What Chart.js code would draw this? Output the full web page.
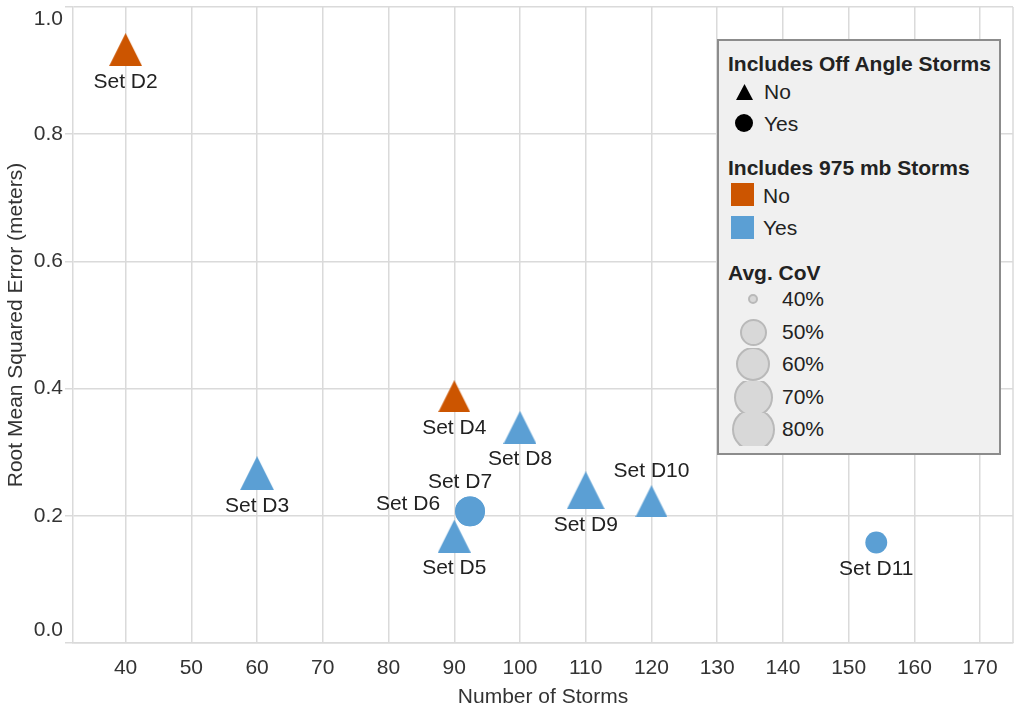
<!DOCTYPE html>
<html>
<head>
<meta charset="utf-8">
<script src="https://cdn.jsdelivr.net/npm/chart.js@4.4.0/dist/chart.umd.min.js"></script>
<style>
  html, body { margin: 0; padding: 0; background: #fff; }
  body { width: 1024px; height: 716px; position: relative; overflow: hidden;
         font-family: 'Liberation Sans', Arial, sans-serif; color: #222; }
  #chart { position: absolute; left: 0; top: 0; }
  #legend { position: absolute; left: 717px; top: 39px; width: 280px; height: 412px;
            background: #f0f0f0; border: 2px solid #8c8c8c; }
  #legend .t { position: absolute; font-weight: bold; font-size: 21px; line-height: 24px; white-space: nowrap; }
  #legend .l { position: absolute; font-size: 21px; line-height: 24px; white-space: nowrap; }
  #legend .sw { position: absolute; }
  #legend .row { position: absolute; left: 0; width: 60px; height: 33px; overflow: hidden; }
  #legend .dot { position: absolute; border-radius: 50%; background: #d8d8d8; border: 2px solid #b9b9b9; box-sizing: border-box; }
</style>
</head>
<body>
<canvas id="chart" width="1024" height="716"></canvas>
<div id="legend"></div>
<script>
// Data
const setNames   = ['Set D2', 'Set D3', 'Set D4', 'Set D5', 'Set D6', 'Set D7', 'Set D8', 'Set D9', 'Set D10', 'Set D11'];
const numStorms  = [40, 60, 90, 90, 92.4, 92.4, 100, 110, 120, 154.2];
const rmse       = [0.933, 0.267, 0.388, 0.168, 0.207, 0.207, 0.339, 0.240, 0.223, 0.158];
const offAngle   = ['No', 'No', 'No', 'No', 'Yes', 'Yes', 'No', 'No', 'No', 'Yes'];
const incl975    = ['No', 'Yes', 'No', 'Yes', 'Yes', 'Yes', 'Yes', 'Yes', 'Yes', 'Yes'];
const avgCov     = [58, 60, 57, 58, 54, 54, 58, 68, 57, 47];

const xTicks = [40, 50, 60, 70, 80, 90, 100, 110, 120, 130, 140, 150, 160, 170];
const yTicks = [0, 0.2, 0.4, 0.6, 0.8, 1.0];
const covLevels = [40, 50, 60, 70, 80];

// styling
const colors = { No: '#cc5500', Yes: '#5b9fd4' };
const covDiam = [10, 27, 34, 39, 43];   // legend circle diameters (px)
const labelPlace = ['below', 'below', 'below', 'below', 'left', 'above', 'below', 'below', 'above', 'below'];
const gridColor = '#dadada';
const font = "'Liberation Sans', Arial, sans-serif";

function markSize(cov) {
  if (cov <= covLevels[0]) return covDiam[0];
  for (let i = 1; i < covLevels.length; i++) {
    if (cov <= covLevels[i]) {
      const t = (cov - covLevels[i - 1]) / (covLevels[i] - covLevels[i - 1]);
      return covDiam[i - 1] + t * (covDiam[i] - covDiam[i - 1]);
    }
  }
  return covDiam[covDiam.length - 1];
}

function triangleImage(size, color) {
  const s = Math.round(size);
  const c = document.createElement('canvas');
  c.width = s; c.height = s;
  const g = c.getContext('2d');
  g.fillStyle = color;
  g.beginPath();
  g.moveTo(s / 2, 0);
  g.lineTo(s, s);
  g.lineTo(0, s);
  g.closePath();
  g.fill();
  return c;
}

const triangles = avgCov.map((v, i) => triangleImage(markSize(v), colors[incl975[i]]));

// point labels
const pointLabels = {
  id: 'pointLabels',
  afterDatasetsDraw(chart) {
    const ctx = chart.ctx;
    const pts = chart.getDatasetMeta(0).data;
    ctx.save();
    ctx.font = '21px ' + font;
    ctx.fillStyle = '#222';
    ctx.textBaseline = 'middle';
    pts.forEach((p, i) => {
      const r = markSize(avgCov[i]) / 2;
      let x = p.x, y = p.y;
      ctx.textAlign = 'center';
      if (labelPlace[i] === 'below') y += r + 16;
      else if (labelPlace[i] === 'above') { y -= r + 14; if (offAngle[i] === 'Yes') x -= 10; }
      else if (labelPlace[i] === 'left') { ctx.textAlign = 'right'; x -= r + 15; y -= 7; }
      ctx.fillText(setNames[i], x, y);
    });
    ctx.restore();
  }
};

// right edge of the plot frame
const frame = {
  id: 'frame',
  beforeDatasetsDraw(chart) {
    const { ctx, chartArea: a } = chart;
    ctx.save();
    ctx.strokeStyle = gridColor;
    ctx.lineWidth = 1.5;
    ctx.beginPath();
    ctx.moveTo(a.right, a.top);
    ctx.lineTo(a.right, a.bottom);
    ctx.stroke();
    ctx.restore();
  }
};

new Chart(document.getElementById('chart').getContext('2d'), {
  type: 'scatter',
  data: {
    datasets: [{
      data: numStorms.map((x, i) => ({ x: x, y: rmse[i] })),
      backgroundColor: c => colors[incl975[c.dataIndex]],
      borderWidth: 0,
      pointStyle: c => offAngle[c.dataIndex] === 'Yes' ? 'circle' : triangles[c.dataIndex],
      pointRadius: c => markSize(avgCov[c.dataIndex]) / 2,
      pointHoverRadius: c => markSize(avgCov[c.dataIndex]) / 2
    }]
  },
  options: {
    responsive: false,
    animation: false,
    events: [],
    layout: { autoPadding: false, padding: { left: 0, right: 11, top: 7, bottom: 0 } },
    plugins: { legend: { display: false }, tooltip: { enabled: false } },
    scales: {
      x: {
        type: 'linear',
        min: 32,
        max: 175,
        afterBuildTicks: axis => { axis.ticks = xTicks.map(v => ({ value: v })); },
        afterFit: s => { s.height = 73; s.paddingLeft = 0; s.paddingRight = 0; },
        grid: { color: gridColor, lineWidth: 1.5, drawTicks: false },
        border: { color: gridColor, width: 1.5 },
        ticks: { color: '#333', font: { family: font, size: 21 }, padding: 13, maxRotation: 0, autoSkip: false },
        title: { display: true, text: 'Number of Storms', color: '#333',
                 font: { family: font, size: 21 }, padding: { top: 0, bottom: 6 } }
      },
      y: {
        min: 0,
        max: 1,
        afterBuildTicks: axis => { axis.ticks = yTicks.map(v => ({ value: v })); },
        afterFit: s => { s.width = 73; s.paddingTop = 0; s.paddingBottom = 0; },
        grid: { color: gridColor, lineWidth: 1.5, tickLength: 8 },
        border: { color: gridColor, width: 1.5 },
        ticks: {
          color: '#333', font: { family: font, size: 21 }, padding: 2,
          callback: v => v === 1 ? ['', '1.0'] : (v === 0 ? ['0.0', ''] : v.toFixed(1))
        },
        title: { display: true, text: 'Root Mean Squared Error (meters)', color: '#333',
                 font: { family: font, size: 21 }, padding: { top: 4, bottom: 0 } }
      }
    }
  },
  plugins: [frame, pointLabels]
});

// legend
const lg = document.getElementById('legend');
function add(html) { lg.insertAdjacentHTML('beforeend', html); }
add('<div class="t" style="left:9px;top:11px">Includes Off Angle Storms</div>');
add('<svg class="sw" style="left:17px;top:43px" width="17" height="16"><polygon points="8.5,0 17,16 0,16" fill="#000"/></svg>');
add('<div class="l" style="left:45px;top:39px">No</div>');
add('<div class="sw" style="left:16px;top:73px;width:18px;height:18px;border-radius:50%;background:#000"></div>');
add('<div class="l" style="left:45px;top:71px">Yes</div>');
add('<div class="t" style="left:9px;top:115px">Includes 975 mb Storms</div>');
add('<div class="sw" style="left:12px;top:142px;width:23px;height:23px;background:' + colors.No + '"></div>');
add('<div class="l" style="left:44px;top:143px">No</div>');
add('<div class="sw" style="left:12px;top:175px;width:23px;height:23px;background:' + colors.Yes + '"></div>');
add('<div class="l" style="left:44px;top:175px">Yes</div>');
add('<div class="t" style="left:9px;top:220px">Avg. CoV</div>');
const rowCenters = [258, 291, 323, 356, 388];
covLevels.forEach((lv, i) => {
  const d = covDiam[i];
  const c = rowCenters[i];
  add('<div class="row" style="top:' + (c - 16) + 'px"><div class="dot" style="left:' + (34 - d / 2) +
      'px;top:' + (16 - d / 2) + 'px;width:' + d + 'px;height:' + d + 'px"></div></div>');
  add('<div class="l" style="left:63px;top:' + (c - 12) + 'px">' + lv + '%</div>');
});
</script>
</body>
</html>
